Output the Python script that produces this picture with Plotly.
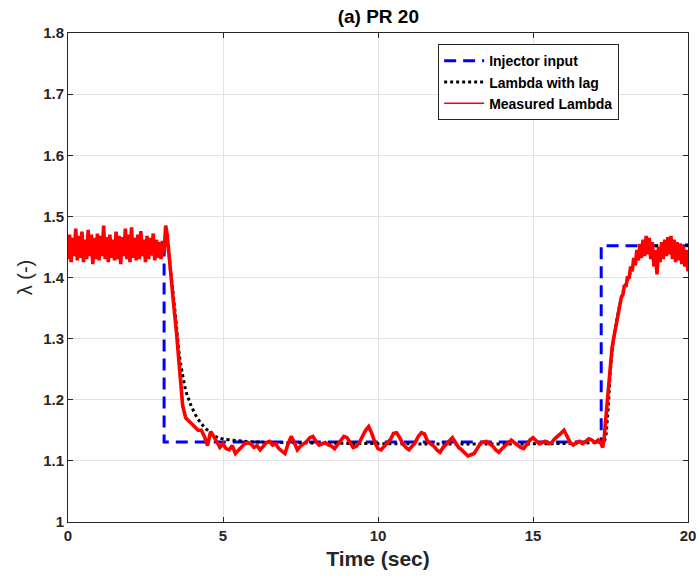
import numpy as np
import plotly.graph_objects as go

# Injector input (step signal)
inj_t = [0, 3.1, 3.1, 17.2, 17.2, 20]
inj_y = [1.452, 1.452, 1.131, 1.131, 1.452, 1.452]

# Lambda with lag
lag_t = [0, 3.1, 3.2, 3.3, 3.4, 3.5, 3.6, 3.7, 3.8, 3.9, 4.0, 4.2, 4.4, 4.6, 4.8, 5.0, 5.5, 6.0,
         17.2, 17.3, 17.4, 17.5, 17.6, 17.7, 17.8, 17.9, 18.0, 18.2, 18.4, 18.6, 18.8, 19.0, 19.5, 20]
lag_y = [1.452, 1.452, 1.45, 1.415, 1.37, 1.32, 1.27, 1.24, 1.215, 1.2, 1.187, 1.168, 1.155, 1.146, 1.139, 1.136, 1.133, 1.131,
         1.131, 1.133, 1.17, 1.25, 1.3, 1.33, 1.355, 1.375, 1.39, 1.415, 1.435, 1.445, 1.45, 1.452, 1.453, 1.453]

# Measured lambda, segment 1 (0 - 3.15 s, 0.05 s samples)
meas1 = [1.43, 1.47, 1.425, 1.465, 1.435, 1.48, 1.428, 1.468, 1.432, 1.475,
         1.425, 1.462, 1.43, 1.478, 1.435, 1.47, 1.422, 1.465, 1.43, 1.472,
         1.428, 1.468, 1.435, 1.485, 1.43, 1.466, 1.425, 1.47, 1.432, 1.462,
         1.428, 1.475, 1.43, 1.468, 1.422, 1.466, 1.435, 1.48, 1.43, 1.47,
         1.425, 1.482, 1.432, 1.465, 1.428, 1.47, 1.43, 1.476, 1.435, 1.462,
         1.425, 1.468, 1.43, 1.465, 1.436, 1.472, 1.428, 1.462, 1.432, 1.458,
         1.43, 1.46, 1.44, 1.485]
# Segment 2 (3.2 - 17.2 s, 0.1 s samples)
meas2 = [1.47, 1.41, 1.36, 1.31, 1.25, 1.19, 1.17, 1.165, 1.16, 1.155,
         1.15, 1.15, 1.14, 1.125, 1.148, 1.14, 1.13, 1.122, 1.128, 1.12,
         1.118, 1.125, 1.112, 1.118, 1.124, 1.128, 1.13, 1.128, 1.122, 1.125,
         1.118, 1.124, 1.13, 1.132, 1.126, 1.128, 1.12, 1.116, 1.112, 1.128,
         1.14, 1.13, 1.118, 1.124, 1.128, 1.132, 1.138, 1.14, 1.132, 1.126,
         1.128, 1.13, 1.126, 1.124, 1.12, 1.126, 1.134, 1.14, 1.138, 1.13,
         1.122, 1.124, 1.13, 1.14, 1.15, 1.156, 1.145, 1.13, 1.12, 1.118,
         1.124, 1.13, 1.135, 1.145, 1.146, 1.138, 1.128, 1.122, 1.118, 1.124,
         1.13, 1.14, 1.146, 1.144, 1.132, 1.128, 1.124, 1.118, 1.114, 1.122,
         1.128, 1.134, 1.138, 1.13, 1.122, 1.118, 1.112, 1.108, 1.11, 1.112,
         1.12, 1.128, 1.131, 1.132, 1.128, 1.124, 1.118, 1.114, 1.12, 1.125,
         1.13, 1.134, 1.13, 1.126, 1.122, 1.12, 1.128, 1.134, 1.138, 1.132,
         1.128, 1.13, 1.132, 1.128, 1.13, 1.136, 1.14, 1.145, 1.15, 1.14,
         1.13, 1.126, 1.13, 1.132, 1.128, 1.132, 1.136, 1.134, 1.13, 1.134,
         1.128]
# Segment 3 (17.25 - 20 s, 0.05 s samples)
meas3 = [1.122, 1.14, 1.17, 1.2, 1.235, 1.26, 1.285, 1.30, 1.315, 1.33,
         1.345, 1.352, 1.368, 1.372, 1.388, 1.385, 1.402, 1.398, 1.418, 1.41,
         1.432, 1.42, 1.445, 1.428, 1.455, 1.432, 1.462, 1.435, 1.468, 1.438,
         1.465, 1.43, 1.458, 1.418, 1.445, 1.405, 1.45, 1.425, 1.458, 1.43,
         1.462, 1.435, 1.466, 1.438, 1.468, 1.43, 1.462, 1.425, 1.458, 1.428,
         1.455, 1.422, 1.452, 1.418, 1.445, 1.41]

t1 = np.round(np.arange(len(meas1)) * 0.05, 3)
t2 = np.round(3.2 + np.arange(len(meas2)) * 0.1, 3)
t3 = np.round(17.25 + np.arange(len(meas3)) * 0.05, 3)
meas_t = np.concatenate([t1, t2, t3])
meas_y = meas1 + meas2 + meas3

x_ticks = [0, 5, 10, 15, 20]
y_ticks = [1, 1.1, 1.2, 1.3, 1.4, 1.5, 1.6, 1.7, 1.8]

FONT = "Liberation Sans Narrow, Arial Narrow, Liberation Sans, Arial, sans-serif"

fig = go.Figure()
fig.add_trace(go.Scatter(x=inj_t, y=inj_y, mode="lines", name="<b>Injector input</b>",
                         line=dict(color="#0000ff", width=3, dash="12px,7px")))
fig.add_trace(go.Scatter(x=lag_t, y=lag_y, mode="lines", name="<b>Lambda with lag</b>",
                         line=dict(color="#000000", width=3, dash="3px,3px"), line_shape="spline"))
fig.add_trace(go.Scatter(x=meas_t, y=meas_y, mode="lines", name="<b>Measured Lambda</b>",
                         showlegend=False, line=dict(color="#ff0000", width=3.6)))
# legend entry with the thin line sample used in the reference
fig.add_trace(go.Scatter(x=[None], y=[None], mode="lines", name="<b>Measured Lambda</b>",
                         line=dict(color="#ff0000", width=1.5)))

fig.update_layout(
    width=698, height=577,
    margin=dict(l=68, r=10, t=33, b=55),
    paper_bgcolor="white", plot_bgcolor="white",
    font=dict(family=FONT, color="#262626", size=14),
    title=dict(text="<b>(a) PR 20</b>", x=0.542, xanchor="center", y=0.972, yanchor="middle",
               font=dict(size=19, color="#000000")),
    showlegend=True,
    legend=dict(x=0.597, y=0.977, xanchor="left", yanchor="top",
                bgcolor="white", bordercolor="#262626", borderwidth=1,
                font=dict(size=14, color="#000000", family=FONT),
                tracegroupgap=0, itemwidth=40),
)
fig.update_xaxes(range=[0, 20], tickvals=x_ticks, ticktext=[f"<b>{v}</b>" for v in x_ticks],
                 showgrid=True, gridcolor="#e3e3e3", gridwidth=1, automargin=False,
                 showline=True, linecolor="#262626", linewidth=1, mirror="ticks",
                 ticks="inside", ticklen=5, tickcolor="#262626", zeroline=False,
                 title=dict(text="<b>Time (sec)</b>", font=dict(size=21, color="#262626"), standoff=8),
                 tickfont=dict(size=15, color="#262626"))
fig.update_yaxes(range=[1, 1.8], tickvals=y_ticks,
                 ticktext=["<b>1</b>"] + [f"<b>{v:.1f}</b>" for v in y_ticks[1:]],
                 showgrid=True, gridcolor="#e3e3e3", gridwidth=1, automargin=False,
                 showline=True, linecolor="#262626", linewidth=1, mirror="ticks",
                 ticks="inside", ticklen=5, tickcolor="#262626", zeroline=False,
                 title=dict(text="λ (-)", font=dict(size=20, color="#262626"), standoff=5),
                 tickfont=dict(size=15, color="#262626"))

fig.write_html("out.html", config={"displayModeBar": False},
               post_script="document.body.style.margin='0';")
